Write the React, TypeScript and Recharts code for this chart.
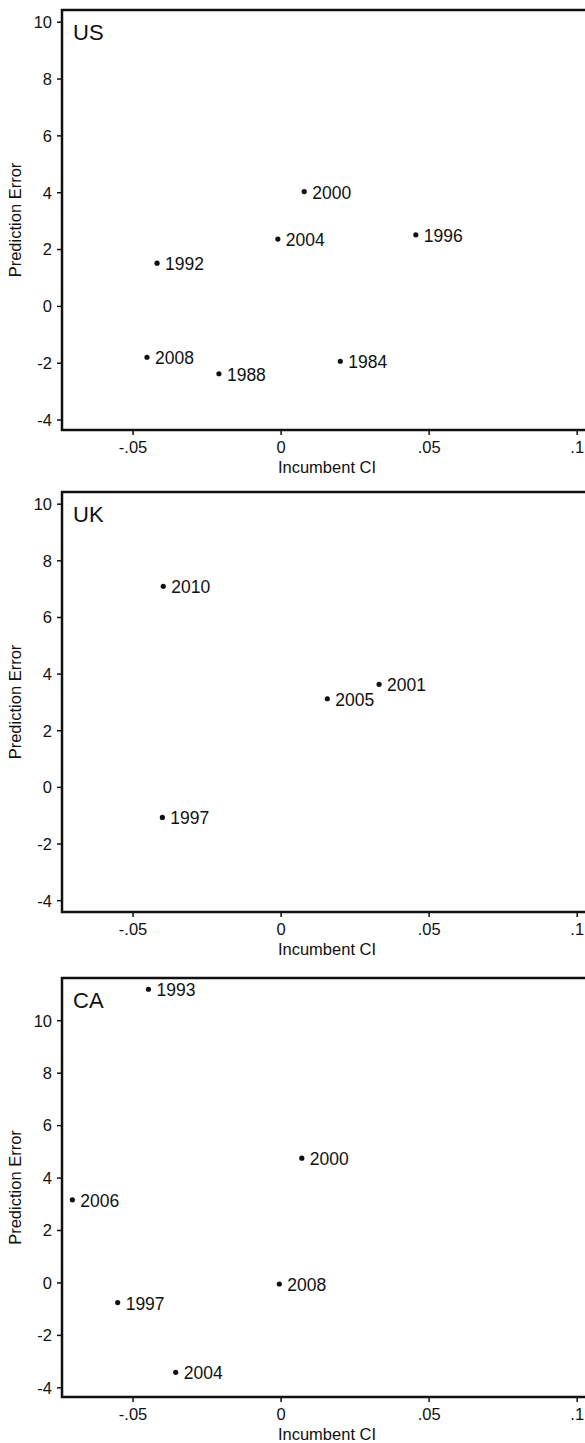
import React from 'react';
import { ScatterChart, Scatter, XAxis, YAxis, ReferenceArea } from 'recharts';

// values
const usYears = [1984, 1988, 1992, 1996, 2000, 2004, 2008];
const usCI = [0.02, -0.021, -0.0419, 0.0455, 0.0078, -0.0011, -0.0453];
const usError = [-1.93, -2.37, 1.52, 2.52, 4.04, 2.37, -1.79];

const ukYears = [1997, 2001, 2005, 2010];
const ukCI = [-0.0401, 0.0331, 0.0156, -0.0398];
const ukError = [-1.06, 3.64, 3.13, 7.1];

const caYears = [1993, 1997, 2000, 2004, 2006, 2008];
const caCI = [-0.0448, -0.0552, 0.007, -0.0356, -0.0705, -0.0006];
const caError = [11.2, -0.75, 4.76, -3.41, 3.17, -0.04];

const xTicks = [-0.05, 0, 0.05, 0.1];
const yTicks = [-4, -2, 0, 2, 4, 6, 8, 10];

const X_MIN = -0.074;
const X_MAX = 0.105;
const FONT = '"Liberation Sans", Arial, Helvetica, sans-serif';
const INK = '#111';

const fmtX = (v: number) => (v === 0 ? '0' : String(v).replace('0.', '.'));

const toRows = (years: number[], ci: number[], err: number[]) =>
  years.map((year, i) => ({ year, ci: ci[i], err: err[i] }));

const Dot = (props: any) => {
  const { cx, cy, payload } = props;
  return (
    <g>
      <circle cx={cx} cy={cy} r={2.6} fill={INK} />
      <text x={cx + 8} y={cy + 7} fontSize={17.5} fontFamily={FONT} fill={INK}>
        {payload.year}
      </text>
    </g>
  );
};

const PanelName = (props: any) => {
  const { viewBox, name } = props;
  return (
    <text x={viewBox.x + 11} y={viewBox.y + 30} fontSize={22} fontFamily={FONT} fill={INK}>
      {name}
    </text>
  );
};

type PanelProps = {
  name: string;
  top: number;
  height: number;
  yMin: number;
  yMax: number;
  rows: { year: number; ci: number; err: number }[];
};

const Panel: React.FC<PanelProps> = ({ name, top, height, yMin, yMax, rows }) => {
  const tickStyle = { fontSize: 16.5, fontFamily: FONT, fill: INK };
  return (
    <div style={{ position: 'absolute', left: 0, top }}>
      <ScatterChart width={600} height={height} margin={{ top: 10, right: 8, bottom: 5, left: 7 }}>
        <XAxis
          type="number"
          dataKey="ci"
          domain={[X_MIN, X_MAX]}
          ticks={xTicks}
          tickFormatter={fmtX}
          allowDataOverflow
          axisLine={false}
          tickLine={{ stroke: INK, strokeWidth: 1.5 }}
          tickSize={5}
          tickMargin={6}
          height={45}
          tick={tickStyle}
          label={{ value: 'Incumbent CI', position: 'insideBottom', offset: 2, fontSize: 16.5, fontFamily: FONT, fill: INK }}
        />
        <YAxis
          type="number"
          dataKey="err"
          domain={[yMin, yMax]}
          ticks={yTicks}
          allowDataOverflow
          axisLine={false}
          tickLine={{ stroke: INK, strokeWidth: 1.5 }}
          tickSize={5}
          tickMargin={5}
          width={55}
          tick={tickStyle}
          label={{
            value: 'Prediction Error',
            angle: -90,
            position: 'insideLeft',
            offset: 8,
            style: { textAnchor: 'middle', fontSize: 16.5, fontFamily: FONT, fill: INK },
          }}
        />
        <ReferenceArea
          x1={X_MIN}
          x2={X_MAX}
          y1={yMin}
          y2={yMax}
          fill="none"
          stroke={INK}
          strokeWidth={2.5}
          label={<PanelName name={name} />}
        />
        <Scatter data={rows} shape={Dot} isAnimationActive={false} />
      </ScatterChart>
    </div>
  );
};

const App: React.FC = () => {
  return (
    <>
      <style>{'html, body { margin: 0; padding: 0; overflow: hidden; background: #fff; }'}</style>
      <div style={{ position: 'relative', width: 585, height: 1443, overflow: 'hidden', background: '#fff' }}>
        <Panel name="US" top={0} height={480} yMin={-4.35} yMax={10.43} rows={toRows(usYears, usCI, usError)} />
        <Panel name="UK" top={482} height={480} yMin={-4.4} yMax={10.43} rows={toRows(ukYears, ukCI, ukError)} />
        <Panel name="CA" top={968} height={479} yMin={-4.35} yMax={11.63} rows={toRows(caYears, caCI, caError)} />
      </div>
    </>
  );
};

export default App;
